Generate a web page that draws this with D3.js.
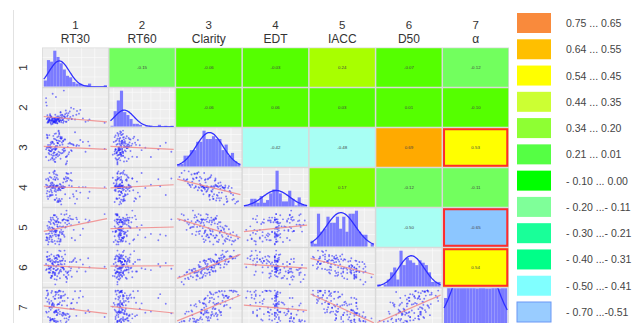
<!DOCTYPE html>
<html>
<head>
<meta charset="utf-8">
<script src="https://cdn.jsdelivr.net/npm/d3@7"></script>
<style>
  body { margin: 0; background: #fff; }
  svg { display: block; font-family: "Liberation Sans", Arial, Helvetica, sans-serif; }
</style>
</head>
<body>
<svg id="chart" width="638" height="323"></svg>
<script>
// ---- variables ----
const varIds = ["1", "2", "3", "4", "5", "6", "7"];
const varNames = ["RT30", "RT60", "Clarity", "EDT", "IACC", "D50", "α"];

// ---- observations (one value per measured position, same order in every list) ----
const rt30 = [12,25,18,33,8,21,40,15,27,19, 52,23,10,30,17,36,22,14,45,26,
  11,31,20,62,16,28,9,38,24,13, 35,19,7,29,48,21,15,33,12,25,
  41,18,6,28,22,56,16,32,11,37, 20,27,13,44,17,24,9,34,19,66,
  14,23,30,10,39,21,25,12,50,18, 27,15,42,20,8,31,23,13,58,22,
  16,35,11,26,47,19,29,7,37,24, 14,32,17,72,21,10,28,45,18,25,
  12,34,20,9,40,23,15,30,6,53, 19,26,13,38,22,11,43,17,28,95,
  16,33,21,70,14,25,31,8,36,20];
const rt60 = [17,20,14,24,12,18,30,16,22,15, 27,19,13,21,17,35,16,23,19,14,
  18,26,12,20,20,17,15,24,21,11, 28,16,19,13,38,22,18,15,25,17,
  20,14,58,32,16,29,12,19,21,14, 27,17,22,40,15,18,13,24,20,14,
  16,11,23,17,26,15,19,28,18,14, 21,16,33,12,20,17,24,13,36,19,
  10,22,18,15,25,21,16,44,30,18, 23,12,20,18,17,15,26,19,13,24,
  16,21,14,22,17,11,19,27,50,34, 18,15,25,20,13,16,23,14,31,12,
  66,72,60,16,9,20,17,26,14,18];
const clarity = [55,38,70,47,78,30,58,42,64,20, 52,60,35,74,45,25,66,50,40,84,
  32,56,43,62,28,72,48,15,59,39, 68,46,80,34,54,24,63,41,51,88,
  37,57,44,75,31,53,22,65,49,10, 69,36,61,42,77,27,55,47,82,38,
  58,33,71,17,50,45,65,40,86,29, 54,23,60,43,73,35,52,19,67,46,
  62,41,79,30,56,14,70,48,26,59, 39,64,34,53,83,42,21,57,37,76,
  49,68,13,51,32,74,44,61,25,55, 36,81,47,28,66,41,58,18,71,45,
  60,38,52,63,31,90,43,72,7,50];
const edt = [51,46,49,50,45,51,61,49,33,70, 45,51,58,35,50,57,52,40,51,35,
  68,49,47,50,49,50,61,58,33,51, 50,45,42,50,38,66,43,49,63,31,
  52,51,60,32,62,50,52,56,38,68, 49,54,39,68,51,60,35,60,34,50,
  53,46,49,59,62,44,48,51,29,67, 47,50,36,59,38,49,65,55,43,51,
  55,41,44,50,41,71,28,49,61,52, 45,51,69,44,40,50,53,58,53,49,
  40,50,60,50,67,31,56,51,53,35, 63,49,47,67,36,50,59,60,46,50,
  40,61,51,36,62,32,49,52,63,34];
const iacc = [34,57,46,35,26,57,65,38,39,53, 65,24,58,37,62,49,43,24,62,24,
  49,60,40,46,65,24,47,60,63,33, 48,36,31,71,44,59,27,62,42,35,
  55,55,26,28,66,57,47,50,31,71, 20,50,54,52,45,49,19,70,25,62,
  31,60,40,44,60,33,57,47,26,69, 41,48,68,42,29,37,53,62,35,58,
  23,56,38,35,62,60,44,31,77,35, 60,41,41,60,40,23,56,30,69,33,
  57,32,69,37,60,50,43,49,37,62, 42,19,65,53,42,28,63,56,26,71,
  34,62,36,57,41,29,61,51,61,44];
const d50 = [65,39,75,47,74,45,43,67,66,27, 63,63,54,58,49,43,72,52,32,87,
  41,51,62,58,42,64,69,28,58,46, 79,39,74,43,68,46,60,36,70,75,
  53,55,59,86,26,51,39,51,69,21, 72,29,64,50,64,49,56,59,70,43,
  79,33,74,41,41,65,57,50,71,49, 44,33,63,40,84,52,47,30,68,55,
  59,65,76,41,65,36,52,48,31,78, 30,70,57,52,71,49,47,63,41,63,
  41,87,16,66,36,69,34,66,46,43, 63,74,53,40,77,49,45,42,59,53,
  61,49,53,71,34,77,66,68,32,36];
const alpha = [50,43,53,83,97,7,31,49,38,38, 26,92,3,82,53,28,37,68,62,97,
  4,26,74,80,17,82,23,32,34,43, 86,35,97,5,46,41,96,29,20,94,
  22,58,76,77,11,77,17,35,64,10, 83,64,16,61,80,10,86,19,74,34,
  91,4,56,38,76,37,59,5,95,11, 31,56,25,40,83,68,29,2,96,41,
  62,31,49,59,73,11,77,35,19,59, 16,94,14,37,93,72,12,45,36,76,
  13,68,12,90,15,57,58,29,38,63, 18,97,13,55,28,60,46,3,95,23,
  60,33,87,42,52,85,34,66,6,93];

// ---- correlation coefficients, upper triangle, row by row ----
const corrUpper = [
  [-0.15, -0.06, -0.03, 0.24, -0.07, -0.12],
  [-0.06, 0.06, 0.03, 0.01, -0.10],
  [-0.42, -0.48, 0.69, 0.53],
  [0.17, -0.12, -0.11],
  [-0.50, -0.65],
  [0.54]
];
// cells framed in red (row, column, 1-based)
const highlighted = [[3, 7], [5, 7], [6, 7]];

// ---- cell fill classes ----
const cellThresholds = [-0.505, -0.405, -0.305, -0.205, -0.105, 0.105, 0.195, 0.345, 0.445, 0.545, 0.645];
const cellColors = ["#8cc6ff", "#a8fff4", "#00ff88", "#22ff99", "#72ff5e", "#55ff00",
  "#80ff00", "#a8ff00", "#ccff33", "#ffff00", "#ffc000", "#ffaa00"];

// ---- legend ----
const legendLabels = ["0.75 ... 0.65", "0.64 ... 0.55", "0.54 ... 0.45", "0.44 ... 0.35",
  "0.34 ... 0.20", "0.21 ... 0.01", "- 0.10 ... 0.00", "- 0.20 ...- 0.11",
  "- 0.30 ...- 0.21", "- 0.40 ...- 0.31", "- 0.50 ...- 0.41", "- 0.70 ...-0.51"];
const legendColors = ["#f98a3c", "#ffbf00", "#ffff00", "#ccff33", "#8eff33", "#55ff44",
  "#00ff00", "#7fff99", "#19ff99", "#00ff88", "#80ffff", "#99ccff"];

// ================= drawing =================
const svg = d3.select("#chart");
const series = [rt30, rt60, clarity, edt, iacc, d50, alpha];
const nVar = varNames.length;

const colScale = d3.scaleBand().domain(d3.range(nVar)).range([42, 509]);
const rowScale = d3.scaleBand().domain(d3.range(nVar)).range([47.5, 327.5]);
const cw = colScale.bandwidth(), ch = rowScale.bandwidth();
const inset = 0.75;

const cellColor = d3.scaleThreshold().domain(cellThresholds).range(cellColors);

function corr(i, j) {
  if (i === j) return 1;
  const a = Math.min(i, j), b = Math.max(i, j);
  return corrUpper[a][b - a - 1];
}

const stats = series.map(v => ({ mean: d3.mean(v), sd: d3.deviation(v) }));
const domains = series.map(v => {
  const e = d3.extent(v), p = (e[1] - e[0]) * 0.04;
  return [e[0] - p, e[1] + p];
});

// thin rule left of the row labels
svg.append("line").attr("x1", 13.5).attr("x2", 13.5).attr("y1", 10).attr("y2", 323)
  .attr("stroke", "#e2e2e2").attr("stroke-width", 1);

// matrix backdrop shows through as the separators between cells
svg.append("rect").attr("x", 42).attr("y", 47.5).attr("width", 467).attr("height", 280)
  .attr("fill", "#d9d9d9");

const defs = svg.append("defs");
const isHighlighted = (i, j) => highlighted.some(h => h[0] === i + 1 && h[1] === j + 1);

for (let i = 0; i < nVar; i++) {
  for (let j = 0; j < nVar; j++) {
    const g = svg.append("g").attr("transform", `translate(${colScale(j)},${rowScale(i)})`);
    const iw = cw - 2 * inset, ih = ch - 2 * inset;

    if (j > i) {
      // correlation cell
      const r = corr(i, j);
      g.append("rect").attr("x", inset).attr("y", inset).attr("width", iw).attr("height", ih)
        .attr("fill", cellColor(r));
      g.append("text").attr("x", cw / 2).attr("y", ch / 2)
        .attr("text-anchor", "middle").attr("dominant-baseline", "central")
        .attr("font-size", 4.4).attr("fill", "#444").text(r.toFixed(2));
      if (isHighlighted(i, j)) {
        g.append("rect").attr("x", inset + 1).attr("y", inset + 1)
          .attr("width", iw - 2).attr("height", ih - 2)
          .attr("fill", "none").attr("stroke", "#ff2b2b").attr("stroke-width", 2);
      }
      continue;
    }

    // panel background + clip
    const clipId = `clip-${i}-${j}`;
    defs.append("clipPath").attr("id", clipId).append("rect")
      .attr("x", inset).attr("y", inset).attr("width", iw).attr("height", ih);
    g.append("rect").attr("x", inset).attr("y", inset).attr("width", iw).attr("height", ih)
      .attr("fill", "#eeeeee");
    const pg = g.append("g").attr("clip-path", `url(#${clipId})`);

    const x = d3.scaleLinear().domain(domains[j]).range([inset + 1, cw - inset - 1]);

    // light grid
    pg.selectAll(".vg").data(x.ticks(5)).join("line")
      .attr("x1", d => x(d)).attr("x2", d => x(d)).attr("y1", 0).attr("y2", ch)
      .attr("stroke", "#fafafa").attr("stroke-width", 0.7);

    if (i === j) {
      // histogram with fitted normal curve
      const v = series[i];
      const dom = domains[i];
      const nb = 20;
      const step = (dom[1] - dom[0]) / nb;
      const bins = d3.bin().domain(dom)
        .thresholds(d3.range(1, nb).map(k => dom[0] + k * step))(v);
      const dens = bins.map(b => b.length / (v.length * (b.x1 - b.x0)));
      const { mean, sd } = stats[i];
      const pdf = t => Math.exp(-0.5 * ((t - mean) / sd) ** 2) / (sd * Math.sqrt(2 * Math.PI));
      const peak = pdf(mean);
      // the α panel is drawn with a tighter vertical range
      const yMax = i === nVar - 1 ? peak * 0.42 : Math.max(peak, d3.max(dens)) * 1.04;
      const y = d3.scaleLinear().domain([0, yMax]).range([ch - inset, inset + 1]);

      pg.selectAll(".hg").data(y.ticks(4)).join("line")
        .attr("x1", 0).attr("x2", cw).attr("y1", d => y(d)).attr("y2", d => y(d))
        .attr("stroke", "#fafafa").attr("stroke-width", 0.7);

      pg.selectAll(".bar").data(bins).join("rect")
        .attr("x", b => x(b.x0)).attr("width", b => Math.max(0, x(b.x1) - x(b.x0)))
        .attr("y", (b, k) => y(dens[k])).attr("height", (b, k) => y(0) - y(dens[k]))
        .attr("fill", "#7b7bff");

      const xs = d3.range(0, 101).map(k => dom[0] + k * (dom[1] - dom[0]) / 100);
      pg.append("path").datum(xs)
        .attr("d", d3.line().x(t => x(t)).y(t => y(pdf(t))))
        .attr("fill", "none").attr("stroke", "#2f2fff").attr("stroke-width", 1.3);
    } else {
      // scatter of variable j (x) against variable i (y)
      const y = d3.scaleLinear().domain(domains[i]).range([ch - inset - 1, inset + 1]);
      pg.selectAll(".hg").data(y.ticks(4)).join("line")
        .attr("x1", 0).attr("x2", cw).attr("y1", d => y(d)).attr("y2", d => y(d))
        .attr("stroke", "#fafafa").attr("stroke-width", 0.7);

      const xv = series[j], yv = series[i];
      pg.selectAll("circle").data(d3.range(xv.length)).join("circle")
        .attr("cx", k => x(xv[k])).attr("cy", k => y(yv[k])).attr("r", 0.95)
        .attr("fill", "#1f1fff").attr("fill-opacity", 0.55);

      // least-squares line from the stated coefficient
      const r = corr(i, j);
      const sx = stats[j], sy = stats[i];
      const slope = r * sy.sd / sx.sd;
      const fy = t => sy.mean + slope * (t - sx.mean);
      const [a, b] = domains[j];
      pg.append("line").attr("x1", x(a)).attr("y1", y(fy(a))).attr("x2", x(b)).attr("y2", y(fy(b)))
        .attr("stroke", "#f08a8a").attr("stroke-opacity", 0.85).attr("stroke-width", 1.2);
    }
  }
}

// column headers
svg.selectAll(".colnum").data(varIds).join("text")
  .attr("x", (d, i) => colScale(i) + cw / 2).attr("y", 29)
  .attr("text-anchor", "middle").attr("font-size", 11.5).attr("fill", "#333").text(d => d);
svg.selectAll(".colname").data(varNames).join("text")
  .attr("x", (d, i) => colScale(i) + cw / 2).attr("y", 43)
  .attr("text-anchor", "middle").attr("font-size", 12).attr("fill", "#333").text(d => d);

// row labels
svg.selectAll(".rownum").data(varIds).join("text")
  .attr("transform", (d, i) => `translate(23,${rowScale(i) + ch / 2}) rotate(-90)`)
  .attr("text-anchor", "middle").attr("dominant-baseline", "central")
  .attr("font-size", 11.5).attr("fill", "#333").text(d => d);

// legend
const ly = d3.scalePoint().domain(d3.range(legendLabels.length)).range([13, 302]);
const lg = svg.append("g");
lg.selectAll("rect").data(legendColors).join("rect")
  .attr("x", 517).attr("y", (d, k) => ly(k)).attr("width", 34).attr("height", 20)
  .attr("fill", d => d)
  .attr("stroke", (d, k) => k === legendColors.length - 1 ? "#6b98f5" : "none")
  .attr("stroke-width", 1);
lg.selectAll("text").data(legendLabels).join("text")
  .attr("x", 566).attr("y", (d, k) => ly(k) + 10)
  .attr("dominant-baseline", "central").attr("font-size", 10.5).attr("fill", "#444")
  .text(d => d);
</script>
</body>
</html>
